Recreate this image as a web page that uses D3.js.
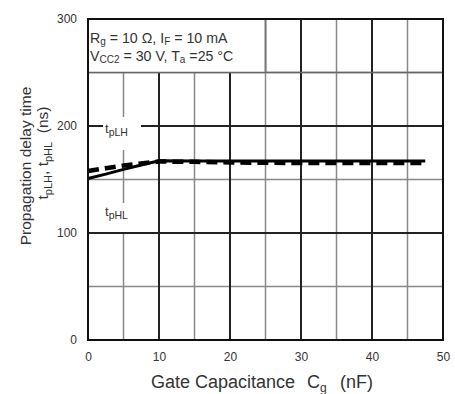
<!DOCTYPE html>
<html><head><meta charset="utf-8">
<script src="https://cdn.jsdelivr.net/npm/d3@7"></script>
<style>
html,body{margin:0;padding:0;background:#fff;}
text{font-family:"Liberation Sans",Arial,sans-serif;fill:#333;}
</style></head>
<body><svg id="c" width="455" height="394"></svg>
<script>
const xTicks = [0, 10, 20, 30, 40, 50];
const yTicks = [0, 100, 200, 300];
const xMinor = [5, 15, 25, 35, 45];
const yMinor = [50, 150, 250];
const capX = [0, 2.5, 5, 7.5, 10, 15, 20, 25, 30, 35, 40, 45, 47.5];
const tpLH = [158, 160.5, 163, 165, 166.8, 166.5, 166, 165.6, 165.4, 165.4, 165.4, 165.4, 165.4];
const tpHL = [151, 155, 159.5, 163.5, 167.5, 167.4, 167.3, 167.3, 167.3, 167.3, 167.3, 167.3, 167.3];

const svg = d3.select("#c");
const x = d3.scaleLinear().domain([0, 50]).range([88, 443]);
const y = d3.scaleLinear().domain([0, 300]).range([340, 19]);

// minor grid
const g = svg.append("g");
xMinor.forEach(v => g.append("line").attr("x1", x(v)).attr("x2", x(v)).attr("y1", y(0)).attr("y2", y(300))
  .attr("stroke", "#888").attr("stroke-width", 1.5));
yMinor.forEach(v => g.append("line").attr("x1", x(0)).attr("x2", x(50)).attr("y1", y(v)).attr("y2", y(v))
  .attr("stroke", "#888").attr("stroke-width", 1.5));
// major grid
xTicks.forEach(v => g.append("line").attr("x1", x(v)).attr("x2", x(v)).attr("y1", y(0)).attr("y2", y(300))
  .attr("stroke", "#222").attr("stroke-width", 2));
yTicks.forEach(v => g.append("line").attr("x1", x(0)).attr("x2", x(50)).attr("y1", y(v)).attr("y2", y(v))
  .attr("stroke", "#222").attr("stroke-width", 2));

// condition box
svg.append("rect").attr("x", x(0)).attr("y", y(300)).attr("width", x(25) - x(0)).attr("height", y(250) - y(300))
  .attr("fill", "#fff");
svg.append("line").attr("x1", x(0)).attr("x2", x(50)).attr("y1", y(250)).attr("y2", y(250))
  .attr("stroke", "#666").attr("stroke-width", 1.5);
svg.append("line").attr("x1", x(25)).attr("x2", x(25)).attr("y1", y(300)).attr("y2", y(250))
  .attr("stroke", "#777").attr("stroke-width", 2);

const bt = svg.append("text").attr("x", 90).attr("y", 43).attr("font-size", 14.2);
bt.append("tspan").text("R");
bt.append("tspan").attr("font-size", 10).attr("dy", 2).text("g");
bt.append("tspan").attr("dy", -2).text(" = 10 Ω, I");
bt.append("tspan").attr("font-size", 10).attr("dy", 2).text("F");
bt.append("tspan").attr("dy", -2).text(" = 10 mA");
const bt2 = svg.append("text").attr("x", 90).attr("y", 61).attr("font-size", 14.2);
bt2.append("tspan").text("V");
bt2.append("tspan").attr("font-size", 10).attr("dy", 2).text("CC2");
bt2.append("tspan").attr("dy", -2).text(" = 30 V, T");
bt2.append("tspan").attr("font-size", 10).attr("dy", 2).text("a");
bt2.append("tspan").attr("dy", -2).text(" =25 °C");

// label backgrounds
svg.append("rect").attr("x", 103).attr("y", 117).attr("width", 38).attr("height", 33).attr("fill", "#fff");
svg.append("rect").attr("x", 103).attr("y", 203).attr("width", 38).attr("height", 29).attr("fill", "#fff");

function lbl(tx, ty, sub) {
  const t = svg.append("text").attr("x", tx).attr("y", ty).attr("font-size", 13);
  t.append("tspan").text("t");
  t.append("tspan").attr("font-size", 10.5).attr("dy", 3).text(sub);
}
lbl(105, 133, "pLH");
lbl(105, 216, "pHL");

// curves
const line = d3.line().x((d, i) => x(capX[i])).y(d => y(d));
svg.append("path").attr("d", line(tpHL)).attr("fill", "none").attr("stroke", "#000").attr("stroke-width", 3);
svg.append("path").attr("d", line(tpLH)).attr("fill", "none").attr("stroke", "#000").attr("stroke-width", 4.5)
  .attr("stroke-dasharray", "11,6");

// frame
svg.append("rect").attr("x", x(0)).attr("y", y(300)).attr("width", x(50) - x(0)).attr("height", y(0) - y(300))
  .attr("fill", "none").attr("stroke", "#111").attr("stroke-width", 2);

// axes labels
const xa = svg.append("g").attr("transform", `translate(0,${y(0)})`)
  .call(d3.axisBottom(x).tickValues(xTicks).tickSize(0).tickPadding(12));
xa.select(".domain").remove();
xa.selectAll("text").attr("font-size", 12).attr("font-family", "Liberation Sans, Arial, sans-serif").attr("fill", "#333");
const ya = svg.append("g").attr("transform", `translate(${x(0)},0)`)
  .call(d3.axisLeft(y).tickValues(yTicks).tickSize(0).tickPadding(11));
ya.select(".domain").remove();
ya.selectAll("text").attr("font-size", 12).attr("font-family", "Liberation Sans, Arial, sans-serif").attr("fill", "#333");

// x title
svg.append("text").attr("x", 151).attr("y", 388).attr("font-size", 18).text("Gate Capacitance");
const xc = svg.append("text").attr("x", 307).attr("y", 388).attr("font-size", 18);
xc.append("tspan").text("C");
xc.append("tspan").attr("font-size", 12).attr("dy", 4).text("g");
svg.append("text").attr("x", 340).attr("y", 388).attr("font-size", 18).text("(nF)");

// y title
svg.append("text").attr("transform", "translate(31,166) rotate(-90)").attr("text-anchor", "middle")
  .attr("font-size", 15.5).text("Propagation delay time");
const yt = svg.append("text").attr("transform", "translate(48,153) rotate(-90)").attr("text-anchor", "middle")
  .attr("font-size", 15.5);
yt.append("tspan").text("t");
yt.append("tspan").attr("font-size", 11).attr("dy", 4).text("pLH");
yt.append("tspan").attr("dy", -4).text(", t");
yt.append("tspan").attr("font-size", 11).attr("dy", 4).text("pHL");
yt.append("tspan").attr("dy", -4).text("\u00a0\u00a0(ns)");
</script></body></html>
